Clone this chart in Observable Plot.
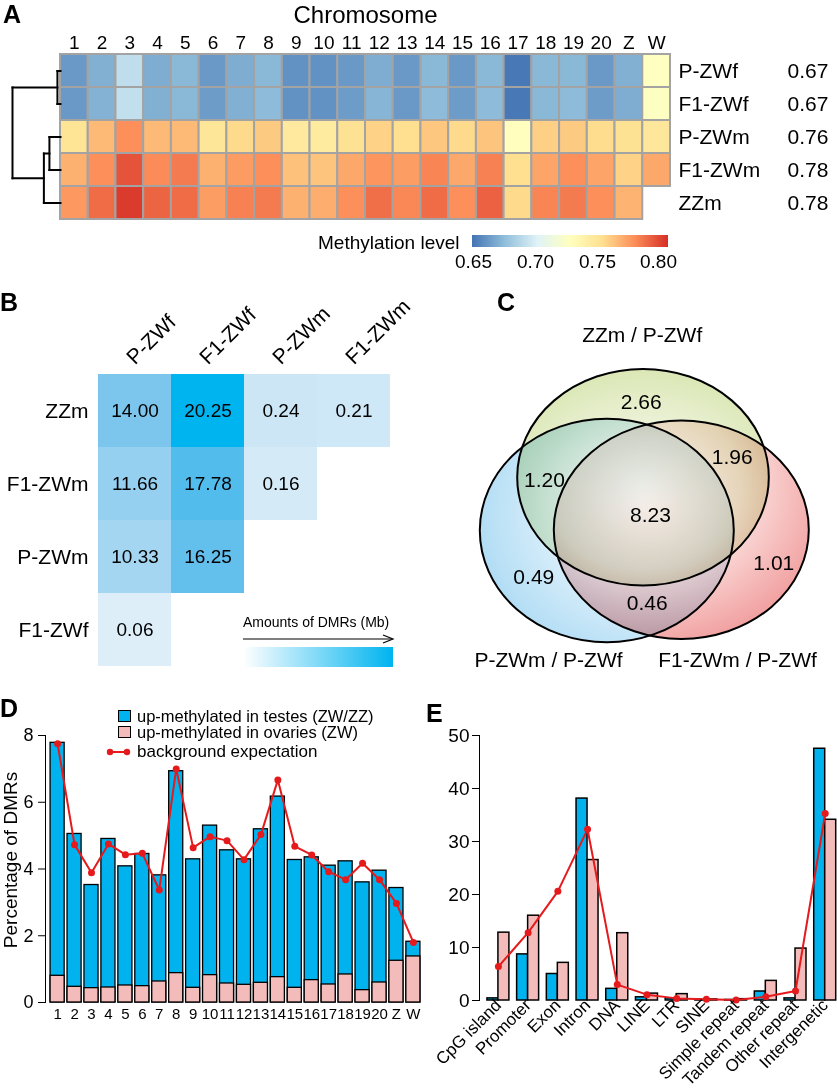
<!DOCTYPE html>
<html><head><meta charset="utf-8">
<script src="https://cdn.jsdelivr.net/npm/d3@7"></script>
<script src="https://cdn.jsdelivr.net/npm/@observablehq/plot@0.6"></script>
<style>
body{margin:0;background:#fff;font-family:"Liberation Sans",Arial,Helvetica,sans-serif;color:#000;}
#fig{position:relative;width:837px;height:1089px;overflow:hidden;background:#fff;}
.abs{position:absolute;}
.letter{position:absolute;font-weight:bold;font-size:25px;line-height:25px;}
.txt{position:absolute;white-space:nowrap;}
.sw{position:absolute;box-sizing:border-box;border:1.5px solid #000;}
</style></head><body>
<svg width="0" height="0" style="position:absolute"><defs>
<radialGradient id="vennGreen" cx="50%" cy="62%" r="62%"><stop offset="0%" stop-color="#fbfcf5"/><stop offset="50%" stop-color="#eff4df"/><stop offset="100%" stop-color="#dbe7b5"/></radialGradient>
<radialGradient id="vennBlue" cx="68%" cy="42%" r="72%"><stop offset="0%" stop-color="#fbfdff"/><stop offset="50%" stop-color="#dff1fb"/><stop offset="100%" stop-color="#aedbf4"/></radialGradient>
<radialGradient id="vennRed" cx="35%" cy="30%" r="85%"><stop offset="0%" stop-color="#fff7f7"/><stop offset="45%" stop-color="#fbe2e0"/><stop offset="100%" stop-color="#ee8e8e"/></radialGradient>
</defs></svg>
<div id="fig">
  <div class="letter" style="left:3px;top:2px">A</div>
  <div class="letter" style="left:0px;top:290px">B</div>
  <div class="letter" style="left:497px;top:290px">C</div>
  <div class="letter" style="left:0px;top:696px">D</div>
  <div class="letter" style="left:426px;top:701px">E</div>
  <div class="txt" style="left:318px;top:233px;font-size:19px;line-height:20px">Methylation level</div>
  <div class="txt" style="left:243px;top:614px;font-size:14px;line-height:16px">Amounts of DMRs (Mb)</div>
  <svg class="abs" style="left:243px;top:633px" width="152" height="12"><line x1="0" y1="6" x2="149" y2="6" stroke="#000" stroke-width="1.2"/><path d="M140,2 L150,6 L140,10" fill="none" stroke="#000" stroke-width="1.2"/></svg>
  <div class="sw" style="left:118px;top:710px;width:13px;height:12px;background:#00b3ef"></div>
  <div class="txt" style="left:137px;top:708px;font-size:16.5px;line-height:16px">up-methylated in testes (ZW/ZZ)</div>
  <div class="sw" style="left:118px;top:726px;width:13px;height:12px;background:#f4bbbb"></div>
  <div class="txt" style="left:137px;top:724px;font-size:16.5px;line-height:16px">up-methylated in ovaries (ZW)</div>
  <svg class="abs" style="left:106px;top:746px" width="26" height="12"><line x1="4" y1="6" x2="21" y2="6" stroke="#e41a1c" stroke-width="2"/><circle cx="4" cy="6" r="3.2" fill="#e41a1c"/><circle cx="21" cy="6" r="3.2" fill="#e41a1c"/></svg>
  <div class="txt" style="left:137px;top:743px;font-size:17px;line-height:18px">background expectation</div>
</div>
<script>
// ---------------- DATA ----------------
const chromosomes = ["1","2","3","4","5","6","7","8","9","10","11","12","13","14","15","16","17","18","19","20","Z","W"];
const samples = ["P-ZWf","F1-ZWf","P-ZWm","F1-ZWm","ZZm"];
const sampleMeans = ["0.67","0.67","0.76","0.78","0.78"];
const methPZWf  = [0.662,0.670,0.691,0.669,0.673,0.662,0.669,0.673,0.659,0.659,0.662,0.669,0.662,0.673,0.662,0.673,0.650,0.673,0.673,0.662,0.670,0.728];
const methF1ZWf = [0.662,0.671,0.692,0.670,0.673,0.663,0.670,0.674,0.659,0.659,0.663,0.672,0.662,0.674,0.663,0.674,0.650,0.673,0.674,0.663,0.669,0.727];
const methPZWm  = [0.752,0.767,0.781,0.767,0.767,0.750,0.757,0.762,0.747,0.746,0.753,0.759,0.755,0.763,0.757,0.764,0.729,0.760,0.762,0.756,0.753,0.749];
const methF1ZWm = [0.770,0.781,0.798,0.782,0.787,0.770,0.777,0.781,0.765,0.764,0.773,0.779,0.776,0.784,0.773,0.785,0.755,0.774,0.781,0.774,0.759,0.773];
const methZZm   = [0.778,0.791,0.805,0.793,0.791,0.776,0.785,0.787,0.770,0.771,0.781,0.790,0.783,0.791,0.781,0.794,0.757,0.784,0.787,0.781,0.769];
const methTicks = [0.65,0.70,0.75,0.80];
// hierarchical clustering of samples (leaf = row index, h = merge height)
const dendroTree = {h: 0.078, children: [{h: 0.005, children: [0, 1]}, {h: 0.027, children: [{h: 0.018, children: [2, 3]}, 4]}]};

const dmrCols = ["P-ZWf","F1-ZWf","P-ZWm","F1-ZWm"];
const dmrRows = ["ZZm","F1-ZWm","P-ZWm","F1-ZWf"];
const dmrZZm   = [14.00, 20.25, 0.24, 0.21];
const dmrF1ZWm = [11.66, 17.78, 0.16];
const dmrPZWm  = [10.33, 16.25];
const dmrF1ZWf = [0.06];

const vennSetNames = ["ZZm / P-ZWf","P-ZWm / P-ZWf","F1-ZWm / P-ZWf"];
const vennRegionValues = ["2.66","1.96","1.20","8.23","1.01","0.49","0.46"];

const upTestes  = [7.78,5.05,3.52,4.90,4.08,4.45,3.81,6.93,4.29,5.30,4.56,4.29,5.19,6.17,4.27,4.35,4.10,4.23,3.60,3.95,3.43,1.82];
const upOvaries = [0.80,0.47,0.43,0.45,0.51,0.49,0.63,0.88,0.44,0.82,0.57,0.53,0.59,0.76,0.44,0.67,0.54,0.84,0.37,0.60,1.25,1.38];
const bgChrom   = [7.75,4.73,3.89,4.75,4.43,4.47,3.37,7.00,4.64,4.97,4.85,4.28,5.03,6.67,4.68,4.42,3.92,3.68,4.17,3.68,2.97,1.80];
const dTicks = [0,2,4,6,8];

const features = ["CpG island","Promoter","Exon","Intron","DNA","LINE","LTR","SINE","Simple repeat","Tandem repeat","Other repeat","Intergenetic"];
const featTestes  = [0.4, 8.7, 5.0, 38.1, 2.2, 0.6, 0.4, 0.1, 0.1, 1.7, 0.4, 47.5];
const featOvaries = [12.8, 16.0, 7.1, 26.5, 12.7, 1.3, 1.2, 0.2, 0.25, 3.7, 9.8, 34.1];
const featBg      = [6.4, 12.8, 20.6, 32.3, 3.0, 1.1, 0.4, 0.25, 0.1, 0.7, 1.8, 35.3];
const eTicks = [0,10,20,30,40,50];

// ---------------- LAYOUT / STYLE ----------------
const FONT = '"Liberation Sans", Arial, Helvetica, sans-serif';
const BLUE = "#00b3ef", PINK = "#f4bbbb", RED = "#e41a1c";
const baseStyle = (fs) => ({fontFamily: FONT, fontSize: fs + "px", background: "transparent", overflow: "visible", color: "#000"});
const fig = document.getElementById("fig");
function place(el, left, top) { el.style.position = "absolute"; el.style.left = left + "px"; el.style.top = top + "px"; fig.appendChild(el); }
// Venn geometry (panel C pixel units)
const vennEllipses = [{cx: 222.5, cy: 196.7, rx: 125.8, ry: 108.3}, {cx: 186.3, cy: 250, rx: 127, ry: 111.7}, {cx: 260.8, cy: 249.2, rx: 127.5, ry: 109.2}];
const vennFills = ["url(#vennGreen)", "url(#vennBlue)", "url(#vennRed)"];
const vennSetLabelPos = [[221.7, 55], [128, 380], [317, 380]];
const vennValuePos = [[220.7, 122], [311.7, 177], [124, 200], [230, 235], [353.3, 283], [113.3, 297], [226.7, 323]];

// ---------------- PANEL A ----------------
const methRows = [methPZWf, methF1ZWf, methPZWm, methF1ZWm, methZZm];
const heat = [];
samples.forEach((s, i) => methRows[i].forEach((v, j) => heat.push({chrom: chromosomes[j], sample: s, value: v})));
const methColor = {type: "linear", interpolate: "rgb",
  domain: [0.649, 0.6755, 0.702, 0.7285, 0.755, 0.7815, 0.808],
  range: ["#4575b4","#91bfdb","#e0f3f8","#ffffbf","#fee090","#fc8d59","#d73027"]};

const plotA = Plot.plot({
  width: 837, height: 230, marginTop: 54, marginBottom: 11, marginLeft: 60, marginRight: 167,
  style: baseStyle(19),
  x: {domain: chromosomes, padding: 0, round: false},
  y: {domain: samples, padding: 0, round: false},
  color: methColor,
  marks: [
    Plot.cell(heat, {x: "chrom", y: "sample", fill: "value", stroke: "#a3a3a3", strokeWidth: 2, inset: 0}),
    Plot.axisX({anchor: "top", tickSize: 0, tickPadding: 6, fontSize: 19, label: null}),
    Plot.axisY({anchor: "right", tickSize: 0, tickPadding: 8, fontSize: 21, label: null}),
    Plot.text(samples, {y: d => d, text: (d, i) => sampleMeans[i], frameAnchor: "right", dx: 117, textAnchor: "start", fontSize: 21}),
    Plot.text(["Chromosome"], {frameAnchor: "top", lineAnchor: "middle", dy: -39, fontSize: 24})
  ]
});
place(plotA, 0, 0);

// dendrogram
const segs = [];
function walk(node) {
  if (typeof node === "number") return {y: node, h: 0};
  const a = walk(node.children[0]), b = walk(node.children[1]);
  segs.push({x1: node.h, y1: a.y, x2: node.h, y2: b.y});
  segs.push({x1: a.h, y1: a.y, x2: node.h, y2: a.y});
  segs.push({x1: b.h, y1: b.y, x2: node.h, y2: b.y});
  return {y: (a.y + b.y) / 2, h: node.h};
}
walk(dendroTree);
const plotDen = Plot.plot({
  width: 62, height: 230, marginTop: 54, marginBottom: 11, marginLeft: 12, marginRight: 2,
  style: baseStyle(12),
  x: {domain: [0, dendroTree.h], reverse: true, axis: null},
  y: {domain: [-0.5, samples.length - 0.5], reverse: true, axis: null},
  marks: [Plot.link(segs, {x1: "x1", y1: "y1", x2: "x2", y2: "y2", stroke: "black", strokeWidth: 2, strokeLinecap: "square"})]
});
place(plotDen, 0, 0);

// color bar
const legA = Plot.legend({color: methColor, width: 196, height: 42, marginLeft: 0, marginRight: 0, marginTop: 0, marginBottom: 30,
  tickSize: 5, ticks: methTicks, tickFormat: d3.format(".2f"), label: null, style: {fontFamily: FONT, fontSize: "19px", overflow: "visible"}});
place(legA, 472, 235);
d3.select(legA).selectAll(".tick line").remove();
d3.select(legA).selectAll("text").attr("font-size", 19).style("font-size", "19px").style("font-family", FONT);

// ---------------- PANEL B ----------------
const dmrValueRows = [dmrZZm, dmrF1ZWm, dmrPZWm, dmrF1ZWf];
const dmr = [];
dmrRows.forEach((r, i) => dmrValueRows[i].forEach((v, j) => dmr.push({row: r, col: dmrCols[j], value: v})));
const dmrColor = {type: "linear", interpolate: "rgb",
  domain: [0, 0.25, 10, 14, 18, 20.25],
  range: ["#e3f0fa","#cbe6f6","#a8d8f3","#7cc5ec","#50bbec","#00b4f0"]};
const plotB = Plot.plot({
  width: 420, height: 395, marginTop: 93, marginBottom: 8, marginLeft: 97, marginRight: 30,
  style: baseStyle(19),
  x: {domain: dmrCols, padding: 0, axis: null},
  y: {domain: dmrRows, padding: 0},
  color: dmrColor,
  marks: [
    Plot.cell(dmr, {x: "col", y: "row", fill: "value", inset: 0}),
    Plot.text(dmr, {x: "col", y: "row", text: d => d.value.toFixed(2), fontSize: 19}),
    Plot.axisY({anchor: "left", tickSize: 0, tickPadding: 9, fontSize: 21, label: null}),
    Plot.text(dmrCols, {x: d => d, frameAnchor: "top", dy: -8, rotate: -45, textAnchor: "start", lineAnchor: "bottom", fontSize: 21})
  ]
});
place(plotB, 0, 280);
const legB = Plot.legend({color: {type: "linear", domain: [0, 1], range: ["#ffffff", "#00b4f0"], interpolate: "rgb"},
  width: 150, height: 20, marginLeft: 0, marginRight: 0, marginTop: 0, marginBottom: 0, tickSize: 0, ticks: [], label: null});
place(legB, 243, 647);

// ---------------- PANEL C ----------------
const plotC = Plot.plot({
  width: 417, height: 400, margin: 0,
  style: baseStyle(21),
  x: {domain: [0, 417], range: [0, 417], axis: null},
  y: {domain: [0, 400], range: [0, 400], axis: null},
  marks: [
    ...vennEllipses.map((e, i) => Plot.dot([e], {x: "cx", y: "cy", r: e.rx, fill: vennFills[i], stroke: "black", strokeWidth: 2, mixBlendMode: "multiply"})),
    Plot.text(vennRegionValues, {x: (d, i) => vennValuePos[i][0], y: (d, i) => vennValuePos[i][1], text: d => d, fontSize: 21}),
    Plot.text(vennSetNames, {x: (d, i) => vennSetLabelPos[i][0], y: (d, i) => vennSetLabelPos[i][1], text: d => d, fontSize: 21})
  ]
});
place(plotC, 420, 280);
d3.select(plotC).selectAll("circle").each(function(d, i) {
  const e = vennEllipses[i]; if (!e) return;
  const c = d3.select(this), cx = +c.attr("cx"), cy = +c.attr("cy");
  c.attr("transform", `translate(${cx},${cy}) scale(1,${e.ry / e.rx}) translate(${-cx},${-cy})`).attr("vector-effect", "non-scaling-stroke");
});

// ---------------- PANEL D ----------------
const plotD = Plot.plot({
  width: 428, height: 409, marginTop: 55, marginBottom: 87, marginLeft: 45, marginRight: 3,
  style: baseStyle(18),
  x: {domain: chromosomes, paddingInner: 0.17, paddingOuter: 0.3, align: 0.5, round: false},
  y: {domain: [0, 8], ticks: dTicks, line: true, tickSize: 7, tickPadding: 5, label: null},
  marks: [
    Plot.barY(chromosomes, {x: d => d, y: (d, i) => upTestes[i], fill: BLUE, stroke: "black", strokeWidth: 1.3}),
    Plot.barY(chromosomes, {x: d => d, y: (d, i) => upOvaries[i], fill: PINK, stroke: "black", strokeWidth: 1.3}),
    Plot.line(chromosomes, {x: d => d, y: (d, i) => bgChrom[i], stroke: RED, strokeWidth: 2}),
    Plot.dot(chromosomes, {x: d => d, y: (d, i) => bgChrom[i], r: 3.5, fill: RED}),
    Plot.axisX({tickSize: 0, tickPadding: 6, fontSize: 15, label: null}),
    Plot.text(["Percentage of DMRs"], {frameAnchor: "left", rotate: -90, textAnchor: "middle", lineAnchor: "middle", dx: -35, dy: -9, fontSize: 19})
  ]
});
place(plotD, 0, 680);

// ---------------- PANEL E ----------------
const plotE = Plot.plot({
  width: 417, height: 409, marginTop: 55, marginBottom: 89, marginLeft: 59, marginRight: 0,
  style: baseStyle(19),
  x: {domain: features, paddingInner: 0.26, paddingOuter: 0.155, align: 0.86, round: false},
  y: {domain: [0, 50], ticks: eTicks, line: true, tickSize: 7, tickPadding: 3, label: null},
  marks: [
    Plot.barY(features, {x: d => d, y: (d, i) => featTestes[i], fill: BLUE, stroke: "black", strokeWidth: 1.5, insetRight: 11}),
    Plot.barY(features, {x: d => d, y: (d, i) => featOvaries[i], fill: PINK, stroke: "black", strokeWidth: 1.5, insetLeft: 11}),
    Plot.line(features, {x: d => d, y: (d, i) => featBg[i], stroke: RED, strokeWidth: 2}),
    Plot.dot(features, {x: d => d, y: (d, i) => featBg[i], r: 3.5, fill: RED}),
    Plot.axisX({tickRotate: -45, tickSize: 0, tickPadding: 2, fontSize: 17, label: null})
  ]
});
place(plotE, 420, 680);
</script>
</body></html>
